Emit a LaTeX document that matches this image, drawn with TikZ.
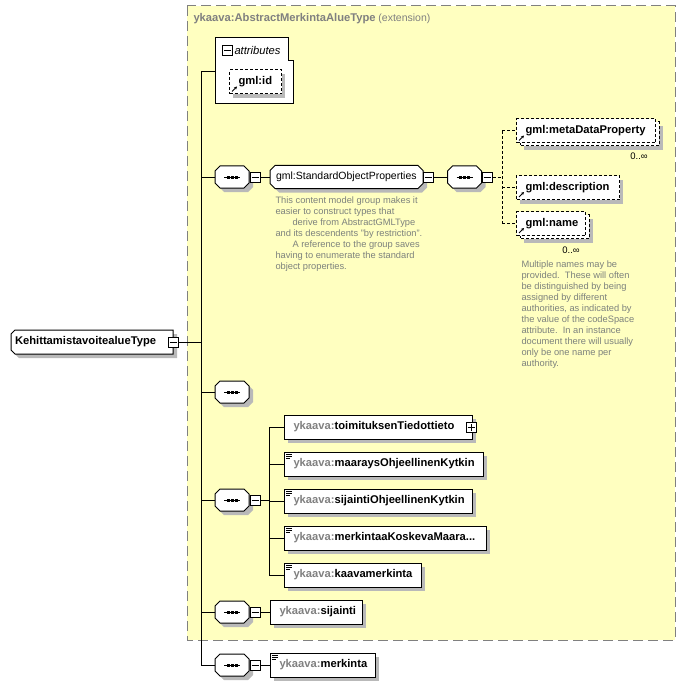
\documentclass[tikz,border=0pt]{standalone}
\usepackage{fontspec}
\setmainfont{Liberation Sans}
\usetikzlibrary{arrows.meta}
\definecolor{bgyellow}{RGB}{255,255,192}
\definecolor{shcol}{RGB}{185,185,185}
\definecolor{framegray}{RGB}{128,128,128}
\definecolor{pfxgray}{RGB}{128,128,128}
\definecolor{anngray}{RGB}{125,130,125}
\newcommand\pfx[2]{\mbox{\textcolor{pfxgray}{#1:}#2}}
\newcommand\elfont{\fontsize{11.2}{13}\selectfont\bfseries}
\newcommand\annfont{\fontsize{9.3}{11}\selectfont}
\newcommand\simpleicon[1]{\draw[line width=0.7pt]
  ([shift={(2pt,-2.5pt)}]#1.north west) -- ++(6pt,0)
  ([shift={(2pt,-4.5pt)}]#1.north west) -- ++(6pt,0)
  ([shift={(2pt,-6.5pt)}]#1.north west) -- ++(4pt,0);}
\newcommand\refarrow[1]{\draw[line width=0.8pt,-{Stealth[length=3pt,width=3pt]}]
  ([shift={(3pt,3pt)}]#1.south west) -- ++(5pt,5pt);}
% octagon path relative to origin: half width, half height, chamfer
\newcommand\octshape[3]{(-#1+#3,-#2) -- (#1-#3,-#2) -- (#1,-#2+#3) -- (#1,#2-#3) -- (#1-#3,#2) -- (-#1+#3,#2) -- (-#1,#2-#3) -- (-#1,-#2+#3) -- cycle}
\tikzset{
  elembase/.style={draw=black, fill=white, line width=1pt, minimum height=24pt, inner ysep=0pt, inner xsep=9pt, anchor=west, font=\elfont, align=left},
  opt/.style={dash pattern=on 3pt off 2pt},
  optline/.style={dash pattern=on 3pt off 2pt},
  frame/.style={fill=bgyellow, draw=framegray, line width=1pt, dash pattern=on 10pt off 5pt},
  mbox/.style={draw=black, fill=white, line width=1pt, minimum size=10pt, inner sep=0pt},
  ann/.style={anchor=north west, inner sep=0pt, align=left, font=\annfont, text=anngray},
  card/.style={inner sep=0pt, font=\fontsize{9.5}{11}\selectfont},
  shfill/.style={fill=shcol, draw=none}
}
% element box: [style]{name}{left x}{center y}{width}{text}
\newcommand\elbox[6][]{%
  \path[shfill] (#3+4,#4-8) rectangle (#3+#5+4,#4+16);
  \pgfmathsetmacro\tw{#5-18}%
  \node[elembase,#1,text width=\tw pt] (#2) at (#3,#4) {#6};}
% multiple optional element: {name}{left x}{center y}{width}{text}
\newcommand\mlbox[5]{%
  \path[shfill] (#2+8,#3-5) rectangle (#2+#4+8,#3+19);
  \filldraw[fill=white, draw=black, opt] (#2+4,#3-9) rectangle (#2+#4+4,#3+15);
  \pgfmathsetmacro\tw{#4-18}%
  \node[elembase,opt,text width=\tw pt] (#1) at (#2,#3) {#5};}
% compositor: {name}{cx}{cy}
\newcommand\compo[3]{%
  \path[shfill, shift={(#2+4,#3+4)}] \octshape{17}{11}{5};
  \filldraw[fill=white, draw=black, shift={(#2,#3)}] \octshape{17}{11}{5};
  \draw[shift={(#2,#3)}] (-8,0) -- (8,0);
  \foreach \dx in {-4,0,4} \fill[shift={(#2,#3)}] (\dx-1.5,-1.5) rectangle (\dx+1.5,1.5);
  \node[inner sep=0pt, minimum width=34pt, minimum height=22pt] (#1) at (#2,#3) {};}
\newcommand\minusbx[3]{\node[mbox] (#1) at (#2,#3) {};
  \draw ([xshift=2pt]#1.west) -- ([xshift=-2pt]#1.east);}
\newcommand\plusbx[3]{\node[mbox] (#1) at (#2,#3) {};
  \draw ([xshift=2pt]#1.west) -- ([xshift=-2pt]#1.east) ([yshift=2pt]#1.south) -- ([yshift=-2pt]#1.north);}
\begin{document}
\begin{tikzpicture}[x=1pt,y=-1pt,line width=1pt]
\useasboundingbox (0,0) rectangle (686,687);
\draw[frame] (187,6) rectangle (675,640);
\node[anchor=west, inner sep=0pt, text=pfxgray] (title) at (193,19)
  {{\elfont ykaava:AbstractMerkintaAlueType} {\fontsize{10.5}{12}\selectfont(extension)}};

% attributes
\draw[fill=white] (215,38) -- (288,38) -- (288,61) -- (293,61) -- (293,104) -- (215,104) -- cycle;
\coordinate (attrW) at (215,72);
\minusbx{am}{227.5}{50.5}
\node[anchor=west, inner sep=0pt, font=\fontsize{11.2}{13}\selectfont\itshape] (atxt) at (234,50) {attributes};
\elbox[opt]{gid}{229}{82}{52}{gml:id}
\refarrow{gid}

% root
\path[shfill, shift={(96,346)}] (-77,-12) -- (81,-12) -- (81,12) -- (-77,12) -- (-81,8) -- (-81,-8) -- cycle;
\filldraw[fill=white, draw=black, shift={(92,342)}] (-77,-12) -- (81,-12) -- (81,12) -- (-77,12) -- (-81,8) -- (-81,-8) -- cycle;
\node[inner xsep=4pt, inner ysep=0pt, minimum height=24pt, text width=154pt, align=left, font=\elfont] (root) at (92,342) {KehittamistavoitealueType};
\minusbx{rootm}{173}{342}

% main bus
\coordinate (bTop) at (201,72);
\coordinate (bBot) at (201,665);
\draw (bTop) -- (bBot);
\draw (bTop) -- (attrW);
\draw (rootm.east) -- (rootm.east -| bTop);

% compositors
\compo{c1}{232}{177}
\minusbx{m1}{255}{177}
\compo{c3}{232}{392}
\compo{c4}{232}{500}
\minusbx{m4}{255}{500}
\compo{c5}{232}{612}
\minusbx{m5}{255}{612}
\compo{c6}{232}{665}
\minusbx{m6}{255}{665}
\foreach \c in {c1,c3,c4,c5,c6} \draw (\c.west -| bTop) -- (\c.west);
\foreach \c/\m in {c1/m1,c4/m4,c5/m5,c6/m6} \draw (\c.east) -- (\m.west);

% group
\path[shfill, shift={(350.5,181)}] \octshape{76.5}{11.5}{5};
\filldraw[fill=white, draw=black, shift={(346.5,177)}] \octshape{76.5}{11.5}{5};
\node[inner xsep=6pt, inner ysep=0pt, minimum height=23pt, text width=141pt, align=left,
  font=\fontsize{10.5}{12}\selectfont] (g) at (346.5,177) {gml:StandardObjectProperties};
\minusbx{gm}{428}{177}
\draw (m1.east) -- (g.west);
\compo{c2}{464.5}{177}
\minusbx{m2}{487}{177}
\draw (gm.east) -- (c2.west);
\draw (c2.east) -- (m2.west);

\node[ann] (ann1) at (275,196) {This content model group makes it\\
easier to construct types that\\
\hspace*{17pt}derive from AbstractGMLType\\
and its descendents "by restriction".\\
\hspace*{17pt}A reference to the group saves\\
having to enumerate the standard\\
object properties.};

% gml elements
\mlbox{md}{516}{131}{139}{gml:metaDataProperty}
\refarrow{md}
\elbox[opt]{desc}{516}{187.5}{103}{gml:description}
\refarrow{desc}
\mlbox{nm}{516}{223.5}{69}{gml:name}
\refarrow{nm}
\node[card] (card1) at (639,156) {0..∞};
\node[card] (card2) at (571,250) {0..∞};
\coordinate (dX) at (502,0);
\draw[optline] (m2.east) -- (m2.east -| dX);
\draw[optline] (md.west -| dX) -- (nm.west -| dX);
\foreach \n in {md,desc,nm} \draw[optline] (\n.west -| dX) -- (\n.west);

\node[ann] (ann2) at (521,260) {Multiple names may be\\
provided.\ \ These will often\\
be distinguished by being\\
assigned by different\\
authorities, as indicated by\\
the value of the codeSpace\\
attribute.\ \ In an instance\\
document there will usually\\
only be one name per\\
authority.};

% sequence of ykaava elements
\elbox{toim}{284}{427}{188}{\pfx{ykaava}{toimituksenTiedottieto}}
\plusbx{toimp}{471}{427}
\elbox{maar}{284}{464}{199}{\pfx{ykaava}{maaraysOhjeellinenKytkin}}
\simpleicon{maar}
\elbox{sijo}{284}{501}{188}{\pfx{ykaava}{sijaintiOhjeellinenKytkin}}
\simpleicon{sijo}
\elbox{merk}{284}{538}{202}{\pfx{ykaava}{merkintaaKoskevaMaara...}}
\simpleicon{merk}
\elbox{kaava}{284}{575}{137}{\pfx{ykaava}{kaavamerkinta}}
\simpleicon{kaava}
\coordinate (iX) at (269,0);
\draw (toim.west -| iX) -- (kaava.west -| iX);
\draw (m4.east) -- (m4.east -| iX);
\foreach \n in {toim,maar,sijo,merk,kaava} \draw (\n.west -| iX) -- (\n.west);

\elbox{sij}{270}{612}{92}{\pfx{ykaava}{sijainti}}
\draw (m5.east) -- (sij.west);
\elbox{mrk}{270}{665}{105}{\pfx{ykaava}{merkinta}}
\simpleicon{mrk}
\draw (m6.east) -- (mrk.west);
\end{tikzpicture}
\end{document}
